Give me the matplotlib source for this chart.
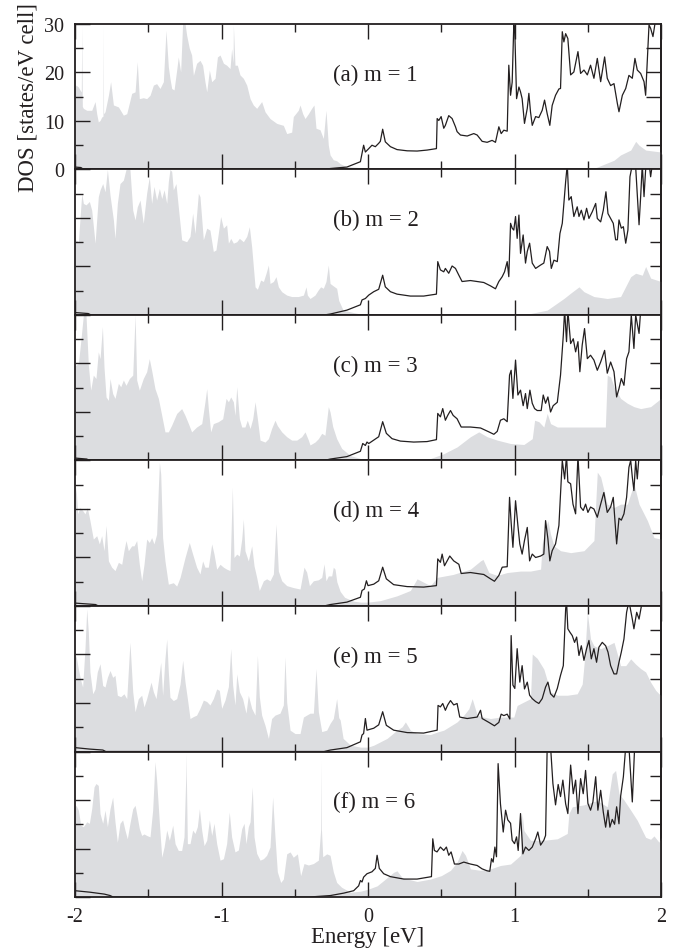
import matplotlib
matplotlib.use("Agg")
import matplotlib.pyplot as plt
from matplotlib.ticker import MultipleLocator

plt.rcParams["font.family"] = ["Liberation Serif", "DejaVu Serif"]
plt.rcParams["font.size"] = 14.5

# (energy [eV], DOS) pairs, one list per curve
A_GRAY = [(-2.0, 17.0), (-1.993, 17.4), (-1.977, 17.0), (-1.966, 16.4), (-1.957, 16.0), (-1.954, 29.8),
          (-1.950, 13.0), (-1.943, 12.6), (-1.920, 12.2), (-1.886, 12.2), (-1.863, 14.0), (-1.852, 11.5),
          (-1.841, 9.8), (-1.829, 10.1), (-1.818, 10.8), (-1.809, 11.0), (-1.807, 29.8), (-1.805, 11.5),
          (-1.795, 11.9), (-1.772, 15.3), (-1.757, 18.1), (-1.738, 13.3), (-1.704, 12.9), (-1.670, 11.2),
          (-1.647, 11.5), (-1.613, 15.7), (-1.590, 16.0), (-1.575, 22.2), (-1.561, 14.6), (-1.534, 14.8),
          (-1.511, 14.6), (-1.488, 15.3), (-1.465, 17.4), (-1.443, 17.7), (-1.420, 16.7), (-1.397, 18.1),
          (-1.379, 28.7), (-1.363, 21.2), (-1.352, 18.8), (-1.340, 16.7), (-1.324, 16.4), (-1.306, 20.5),
          (-1.295, 23.2), (-1.279, 20.1), (-1.265, 30.5), (-1.249, 30.1), (-1.238, 27.7), (-1.220, 25.0),
          (-1.204, 23.6), (-1.192, 19.4), (-1.170, 21.9), (-1.147, 22.5), (-1.129, 21.5), (-1.113, 18.1),
          (-1.101, 16.0), (-1.083, 20.5), (-1.067, 18.1), (-1.044, 18.8), (-1.028, 23.2), (-1.010, 23.6),
          (-0.987, 21.9), (-0.965, 21.5), (-0.942, 20.8), (-0.931, 24.9), (-0.921, 22.0), (-0.919, 29.8),
          (-0.908, 21.5), (-0.892, 21.5), (-0.874, 19.5), (-0.851, 18.8), (-0.828, 17.4), (-0.805, 14.6),
          (-0.783, 13.3), (-0.760, 12.6), (-0.726, 14.0), (-0.703, 11.9), (-0.669, 10.5), (-0.623, 9.5),
          (-0.578, 9.1), (-0.555, 7.4), (-0.521, 7.7), (-0.510, 10.9), (-0.476, 12.2), (-0.464, 13.3),
          (-0.446, 11.5), (-0.430, 10.5), (-0.407, 11.5), (-0.385, 12.6), (-0.369, 13.3), (-0.355, 8.5),
          (-0.328, 8.2), (-0.305, 6.4), (-0.287, 12.2), (-0.271, 5.0), (-0.259, 3.0), (-0.237, 2.0),
          (-0.214, 1.8), (-0.190, 1.2), (-0.150, 0.6), (-0.100, 0.5), (-0.050, 0.4), (-0.020, 0.2),
          (0.0, 0.0), (1.519, 0.0), (1.565, 0.5), (1.679, 1.9), (1.724, 3.0), (1.793, 4.0),
          (1.827, 5.8), (1.850, 5.0), (1.895, 4.0), (2.0, 3.6)]
A_LINE = [(-2.0, 0.5), (-1.96, 0.4), (-1.94, 0.0), (-0.30, 0.0), (-0.257, 0.2), (-0.144, 0.5),
          (-0.052, 1.6), (-0.030, 5.0), (-0.018, 3.6), (0.005, 4.3), (0.027, 5.0), (0.050, 4.7),
          (0.073, 5.4), (0.084, 5.8), (0.100, 8.3), (0.118, 5.7), (0.153, 4.7), (0.198, 4.1),
          (0.267, 3.85), (0.335, 3.8), (0.403, 4.0), (0.467, 4.3), (0.472, 10.5), (0.483, 10.1),
          (0.499, 10.9), (0.517, 8.5), (0.528, 9.1), (0.551, 11.1), (0.574, 10.5), (0.597, 8.8),
          (0.608, 7.8), (0.631, 7.1), (0.677, 6.9), (0.722, 7.4), (0.745, 7.1), (0.779, 5.8),
          (0.813, 5.6), (0.847, 6.0), (0.870, 5.6), (0.893, 8.8), (0.909, 7.4), (0.927, 8.1),
          (0.950, 7.9), (0.961, 21.5), (0.973, 15.3), (0.984, 18.0), (0.995, 29.8), (1.002, 28.4),
          (1.014, 14.6), (1.030, 17.0), (1.041, 16.0), (1.052, 14.6), (1.068, 9.5), (1.087, 12.6),
          (1.098, 15.7), (1.109, 11.9), (1.121, 9.1), (1.144, 10.9), (1.166, 10.7), (1.189, 12.2),
          (1.205, 14.3), (1.223, 11.5), (1.241, 9.1), (1.257, 13.2), (1.280, 15.3), (1.303, 16.6),
          (1.314, 16.7), (1.326, 28.4), (1.337, 26.3), (1.349, 28.0), (1.364, 27.0), (1.383, 19.5),
          (1.405, 20.1), (1.433, 24.3), (1.451, 19.8), (1.474, 20.5), (1.497, 19.5), (1.519, 21.5),
          (1.542, 18.8), (1.565, 22.9), (1.588, 18.1), (1.615, 23.2), (1.633, 18.8), (1.656, 17.3),
          (1.679, 17.7), (1.702, 13.6), (1.713, 11.9), (1.736, 15.3), (1.759, 16.7), (1.781, 19.4),
          (1.804, 18.8), (1.822, 22.9), (1.838, 20.5), (1.861, 19.8), (1.884, 18.1), (1.895, 15.3),
          (1.918, 29.8), (1.929, 29.1), (1.945, 27.4), (1.964, 31.1), (2.0, 32.0)]

B_GRAY = [(-2.0, 15.0), (-1.993, 15.5), (-1.977, 15.1), (-1.954, 25.1), (-1.943, 23.0), (-1.925, 22.7),
          (-1.902, 23.4), (-1.886, 21.6), (-1.863, 14.8), (-1.841, 24.4), (-1.829, 25.8), (-1.811, 27.1),
          (-1.795, 25.4), (-1.779, 30.0), (-1.761, 24.7), (-1.738, 19.6), (-1.727, 15.8), (-1.711, 23.0),
          (-1.693, 27.1), (-1.670, 27.8), (-1.652, 30.0), (-1.625, 30.0), (-1.606, 21.6), (-1.590, 19.6),
          (-1.575, 22.3), (-1.556, 23.7), (-1.534, 18.9), (-1.511, 25.1), (-1.493, 28.5), (-1.477, 23.0),
          (-1.461, 26.5), (-1.443, 23.7), (-1.424, 26.1), (-1.408, 24.0), (-1.392, 25.8), (-1.374, 23.0),
          (-1.363, 27.5), (-1.352, 30.0), (-1.340, 29.6), (-1.329, 25.8), (-1.311, 27.1), (-1.295, 22.3),
          (-1.272, 15.5), (-1.238, 15.1), (-1.215, 16.2), (-1.197, 21.0), (-1.181, 16.8), (-1.158, 25.1),
          (-1.147, 24.4), (-1.124, 15.5), (-1.101, 17.9), (-1.079, 17.5), (-1.056, 13.1), (-1.038, 13.4),
          (-1.022, 16.8), (-1.006, 20.3), (-0.987, 17.9), (-0.965, 18.6), (-0.953, 14.8), (-0.937, 15.8),
          (-0.919, 14.8), (-0.896, 15.1), (-0.878, 15.8), (-0.851, 15.1), (-0.828, 16.2), (-0.810, 18.2),
          (-0.794, 14.0), (-0.771, 5.8), (-0.755, 5.3), (-0.733, 7.2), (-0.714, 6.9), (-0.696, 8.6),
          (-0.680, 10.3), (-0.669, 6.5), (-0.646, 6.9), (-0.628, 7.9), (-0.612, 5.8), (-0.589, 4.8),
          (-0.555, 4.1), (-0.521, 3.8), (-0.476, 3.8), (-0.441, 4.1), (-0.423, 5.8), (-0.414, 4.1),
          (-0.396, 3.4), (-0.362, 4.1), (-0.339, 5.2), (-0.323, 5.8), (-0.305, 5.5), (-0.287, 6.9),
          (-0.271, 10.3), (-0.259, 6.5), (-0.237, 6.0), (-0.214, 5.5), (-0.200, 3.0), (-0.170, 1.0),
          (-0.100, 0.5), (-0.050, 0.2), (0.0, 0.0), (1.050, 0.0), (1.109, 0.3), (1.223, 1.0),
          (1.337, 3.4), (1.383, 4.5), (1.440, 5.8), (1.474, 4.8), (1.542, 3.8), (1.633, 3.4),
          (1.724, 3.8), (1.793, 7.9), (1.827, 8.6), (1.872, 8.2), (1.895, 10.0), (1.929, 7.6), (2.0, 6.9)]
B_LINE = [(-2.0, 0.5), (-1.91, 0.3), (-1.89, 0.0), (-0.30, 0.0), (-0.257, 0.2), (-0.144, 1.0),
          (-0.052, 2.1), (-0.041, 3.1), (-0.018, 3.4), (0.005, 4.1), (0.039, 4.8), (0.073, 5.3),
          (0.100, 8.2), (0.118, 5.8), (0.153, 4.8), (0.198, 4.3), (0.289, 3.9), (0.380, 3.9),
          (0.467, 4.3), (0.476, 11.0), (0.494, 9.3), (0.517, 8.9), (0.528, 9.6), (0.551, 8.6),
          (0.574, 10.1), (0.597, 9.6), (0.620, 8.2), (0.642, 6.9), (0.699, 7.1), (0.745, 6.9),
          (0.790, 6.7), (0.836, 6.0), (0.870, 5.4), (0.893, 6.9), (0.916, 7.9), (0.932, 8.9),
          (0.950, 11.0), (0.961, 7.9), (0.973, 18.9), (0.984, 17.9), (0.995, 17.5), (1.007, 20.3),
          (1.018, 15.8), (1.030, 20.6), (1.041, 12.7), (1.059, 16.5), (1.075, 10.7), (1.087, 13.1),
          (1.103, 14.8), (1.121, 10.7), (1.144, 9.6), (1.178, 10.3), (1.200, 10.7), (1.223, 14.1),
          (1.239, 13.1), (1.251, 9.6), (1.269, 11.3), (1.292, 11.0), (1.310, 16.8), (1.326, 18.9),
          (1.349, 27.5), (1.360, 31.0), (1.371, 23.7), (1.387, 24.4), (1.405, 20.3), (1.428, 22.3),
          (1.440, 20.3), (1.456, 21.6), (1.474, 19.6), (1.492, 22.0), (1.508, 19.9), (1.531, 21.3),
          (1.554, 23.0), (1.565, 19.9), (1.588, 19.2), (1.606, 21.6), (1.624, 25.4), (1.638, 20.9),
          (1.656, 19.9), (1.674, 18.9), (1.690, 15.5), (1.702, 15.5), (1.713, 19.6), (1.729, 17.9),
          (1.743, 18.2), (1.759, 14.8), (1.774, 17.5), (1.788, 28.5), (1.804, 31.0), (1.827, 30.5),
          (1.850, 18.6), (1.861, 24.4), (1.872, 31.0), (1.884, 24.4), (1.895, 30.0), (1.918, 31.5),
          (1.929, 28.5), (1.945, 32.0), (2.0, 33.0)]

C_GRAY = [(-2.0, 19.5), (-1.993, 19.7), (-1.977, 20.0), (-1.961, 24.5), (-1.943, 30.0), (-1.925, 30.0),
          (-1.909, 19.7), (-1.893, 14.5), (-1.875, 17.6), (-1.857, 16.9), (-1.841, 22.4), (-1.829, 21.0),
          (-1.813, 27.6), (-1.802, 19.2), (-1.788, 13.1), (-1.772, 12.4), (-1.761, 16.9), (-1.743, 13.8),
          (-1.727, 12.8), (-1.704, 15.9), (-1.688, 15.2), (-1.670, 16.6), (-1.652, 15.5), (-1.629, 16.9),
          (-1.606, 17.6), (-1.590, 30.0), (-1.579, 16.6), (-1.561, 14.5), (-1.534, 16.9), (-1.511, 18.3),
          (-1.493, 21.0), (-1.477, 18.6), (-1.454, 14.8), (-1.431, 12.8), (-1.408, 9.3), (-1.386, 5.9),
          (-1.363, 5.9), (-1.340, 7.3), (-1.306, 9.7), (-1.272, 10.7), (-1.249, 9.3), (-1.226, 7.6),
          (-1.204, 5.9), (-1.170, 6.9), (-1.135, 7.6), (-1.113, 12.1), (-1.101, 14.8), (-1.090, 10.7),
          (-1.074, 5.9), (-1.056, 7.6), (-1.022, 8.0), (-0.992, 8.6), (-0.969, 12.8), (-0.953, 12.1),
          (-0.937, 13.1), (-0.919, 12.1), (-0.908, 9.3), (-0.896, 15.2), (-0.878, 8.6), (-0.862, 6.9),
          (-0.840, 6.9), (-0.824, 8.3), (-0.805, 6.6), (-0.787, 8.6), (-0.771, 12.1), (-0.755, 8.6),
          (-0.737, 4.2), (-0.703, 3.8), (-0.680, 4.5), (-0.658, 6.6), (-0.635, 8.3), (-0.619, 7.2),
          (-0.589, 5.9), (-0.555, 4.9), (-0.521, 4.2), (-0.487, 4.2), (-0.453, 4.9), (-0.430, 5.9),
          (-0.407, 4.2), (-0.396, 3.2), (-0.362, 3.8), (-0.339, 4.5), (-0.316, 5.6), (-0.294, 5.2),
          (-0.271, 11.1), (-0.259, 10.0), (-0.241, 7.0), (-0.214, 4.5), (-0.180, 2.5), (-0.120, 1.0),
          (-0.050, 0.4), (0.0, 0.1), (0.400, 0.2), (0.426, 0.4), (0.517, 1.4), (0.608, 2.8),
          (0.699, 4.9), (0.756, 5.9), (0.813, 4.9), (0.882, 4.2), (0.973, 3.5), (1.064, 3.3),
          (1.121, 4.5), (1.137, 8.3), (1.166, 8.0), (1.200, 6.9), (1.223, 9.7), (1.246, 7.6),
          (1.292, 6.9), (1.383, 6.9), (1.519, 6.9), (1.620, 6.9), (1.633, 17.6), (1.656, 17.2),
          (1.679, 15.2), (1.724, 12.8), (1.770, 11.8), (1.815, 11.1), (1.861, 10.7), (1.929, 11.1),
          (2.0, 12.8)]
C_LINE = [(-2.0, 0.5), (-1.92, 0.3), (-1.90, 0.0), (-0.30, 0.0), (-0.257, 0.3), (-0.144, 0.8),
          (-0.052, 1.9), (-0.036, 3.5), (-0.018, 3.1), (-0.007, 3.8), (0.005, 3.5), (0.039, 4.2),
          (0.073, 4.9), (0.100, 8.0), (0.125, 5.6), (0.164, 4.5), (0.221, 4.0), (0.312, 3.8),
          (0.403, 3.9), (0.467, 4.3), (0.476, 9.7), (0.494, 9.0), (0.510, 10.7), (0.528, 8.3),
          (0.544, 9.3), (0.563, 10.3), (0.581, 9.3), (0.608, 8.6), (0.636, 6.9), (0.699, 6.9),
          (0.768, 6.7), (0.825, 5.9), (0.859, 5.4), (0.882, 6.0), (0.904, 8.3), (0.927, 8.6),
          (0.950, 8.0), (0.966, 17.6), (0.977, 18.6), (0.989, 12.8), (1.007, 20.7), (1.023, 13.5),
          (1.041, 14.5), (1.059, 11.3), (1.075, 13.8), (1.087, 10.7), (1.105, 14.5), (1.121, 11.8),
          (1.137, 10.7), (1.155, 10.3), (1.182, 10.3), (1.196, 13.5), (1.212, 11.8), (1.228, 13.1),
          (1.246, 10.0), (1.264, 11.3), (1.292, 12.0), (1.314, 17.6), (1.333, 25.8), (1.342, 31.0),
          (1.355, 24.5), (1.364, 31.0), (1.383, 24.1), (1.401, 25.1), (1.417, 22.4), (1.433, 24.5),
          (1.446, 18.3), (1.462, 23.8), (1.478, 27.2), (1.497, 21.0), (1.519, 21.7), (1.542, 20.7),
          (1.565, 18.6), (1.588, 20.3), (1.615, 22.7), (1.633, 18.0), (1.656, 20.3), (1.679, 18.3),
          (1.697, 13.1), (1.713, 14.8), (1.729, 16.9), (1.747, 15.5), (1.765, 21.0), (1.781, 22.4),
          (1.797, 30.0), (1.815, 23.1), (1.827, 30.0), (1.850, 26.2), (1.861, 31.0), (2.0, 33.0)]

D_GRAY = [(-2.0, 22.0), (-1.993, 24.5), (-1.982, 19.0), (-1.966, 20.3), (-1.948, 19.7), (-1.932, 19.0),
          (-1.916, 20.3), (-1.898, 17.6), (-1.875, 13.8), (-1.852, 14.5), (-1.834, 12.8), (-1.818, 14.5),
          (-1.802, 11.4), (-1.788, 16.6), (-1.772, 9.3), (-1.750, 8.0), (-1.727, 7.3), (-1.704, 9.0),
          (-1.681, 8.6), (-1.666, 11.4), (-1.652, 13.5), (-1.636, 11.4), (-1.613, 12.4), (-1.597, 12.4),
          (-1.579, 13.5), (-1.561, 8.6), (-1.545, 5.2), (-1.529, 8.6), (-1.511, 13.8), (-1.493, 13.1),
          (-1.477, 14.1), (-1.461, 12.8), (-1.443, 14.8), (-1.431, 24.5), (-1.424, 29.6), (-1.415, 27.2),
          (-1.402, 14.1), (-1.386, 9.3), (-1.363, 4.5), (-1.329, 4.8), (-1.306, 4.1), (-1.283, 5.9),
          (-1.249, 10.0), (-1.220, 13.1), (-1.197, 10.7), (-1.170, 8.0), (-1.147, 6.6), (-1.129, 9.3),
          (-1.113, 8.0), (-1.090, 8.0), (-1.067, 12.8), (-1.051, 10.7), (-1.033, 7.6), (-1.010, 8.6),
          (-0.987, 8.0), (-0.965, 7.6), (-0.942, 7.3), (-0.926, 24.5), (-0.915, 10.0), (-0.896, 10.7),
          (-0.878, 10.3), (-0.862, 13.8), (-0.851, 17.9), (-0.840, 11.4), (-0.817, 9.3), (-0.794, 12.4),
          (-0.778, 8.3), (-0.760, 5.9), (-0.742, 3.2), (-0.714, 5.2), (-0.692, 5.6), (-0.669, 5.2),
          (-0.646, 6.6), (-0.628, 16.9), (-0.612, 7.2), (-0.589, 5.2), (-0.555, 4.2), (-0.510, 3.8),
          (-0.464, 3.5), (-0.437, 8.0), (-0.419, 7.0), (-0.400, 4.2), (-0.373, 5.2), (-0.339, 5.4),
          (-0.316, 5.9), (-0.300, 8.7), (-0.287, 5.2), (-0.271, 6.2), (-0.248, 6.2), (-0.237, 8.0),
          (-0.225, 7.6), (-0.213, 5.0), (-0.190, 3.0), (-0.160, 1.8), (-0.100, 1.0), (-0.050, 0.8),
          (0.0, 0.8), (0.084, 1.1), (0.198, 2.1), (0.289, 3.2), (0.335, 5.6), (0.380, 4.9),
          (0.426, 4.2), (0.472, 5.9), (0.580, 6.5), (0.699, 7.6), (0.768, 9.3), (0.785, 9.6),
          (0.825, 6.9), (0.882, 6.3), (0.950, 6.9), (1.041, 7.2), (1.109, 7.2), (1.178, 7.6),
          (1.189, 12.8), (1.212, 16.2), (1.228, 17.6), (1.246, 14.8), (1.269, 12.4), (1.314, 11.4),
          (1.383, 11.0), (1.474, 11.4), (1.542, 13.5), (1.554, 21.0), (1.565, 27.6), (1.588, 26.6),
          (1.633, 21.0), (1.679, 20.3), (1.724, 21.0), (1.770, 21.0), (1.793, 23.1), (1.815, 25.2),
          (1.850, 21.0), (1.872, 19.7), (1.907, 17.6), (1.952, 14.1), (2.0, 13.8)]
D_LINE = [(-2.0, 0.6), (-1.86, 0.3), (-1.84, 0.0), (-0.30, 0.0), (-0.257, 0.3), (-0.144, 0.8),
          (-0.052, 1.8), (-0.041, 3.2), (-0.025, 3.5), (-0.011, 5.2), (0.0, 4.2), (0.039, 4.5),
          (0.073, 5.2), (0.100, 8.0), (0.125, 5.6), (0.175, 4.4), (0.267, 4.0), (0.380, 3.9),
          (0.467, 4.2), (0.476, 9.7), (0.494, 9.0), (0.506, 10.7), (0.522, 8.3), (0.540, 9.3),
          (0.558, 10.3), (0.585, 9.3), (0.620, 8.6), (0.636, 6.7), (0.699, 6.9), (0.790, 6.5),
          (0.836, 5.6), (0.863, 5.1), (0.893, 6.3), (0.916, 8.0), (0.950, 8.1), (0.966, 22.4),
          (0.977, 17.2), (0.989, 12.1), (1.007, 21.7), (1.023, 16.6), (1.036, 12.8), (1.052, 10.7),
          (1.068, 13.5), (1.087, 16.2), (1.103, 9.3), (1.121, 10.7), (1.144, 10.0), (1.178, 10.3),
          (1.200, 10.7), (1.212, 17.6), (1.228, 13.8), (1.241, 9.3), (1.257, 11.4), (1.280, 12.8),
          (1.303, 16.6), (1.314, 23.1), (1.326, 30.0), (1.342, 26.2), (1.355, 31.0), (1.364, 25.6),
          (1.383, 25.2), (1.399, 21.0), (1.417, 19.0), (1.433, 31.0), (1.451, 20.4), (1.469, 19.7),
          (1.485, 21.0), (1.501, 19.3), (1.519, 20.4), (1.542, 20.0), (1.565, 18.3), (1.588, 21.0),
          (1.610, 23.4), (1.633, 19.3), (1.656, 20.4), (1.674, 22.4), (1.697, 12.8), (1.713, 18.1),
          (1.729, 17.7), (1.747, 19.0), (1.765, 22.4), (1.781, 28.6), (1.793, 30.0), (1.804, 26.6),
          (1.815, 23.8), (1.827, 30.0), (1.838, 26.2), (1.850, 31.0), (2.0, 33.0)]

E_GRAY = [(-2.0, 19.0), (-1.993, 19.8), (-1.977, 17.0), (-1.961, 14.7), (-1.948, 13.3), (-1.932, 21.2),
          (-1.920, 29.4), (-1.909, 24.6), (-1.898, 16.4), (-1.879, 11.9), (-1.863, 12.9), (-1.848, 16.4),
          (-1.829, 18.1), (-1.811, 13.6), (-1.795, 13.3), (-1.779, 15.3), (-1.761, 16.7), (-1.743, 15.3),
          (-1.727, 15.7), (-1.711, 11.6), (-1.688, 11.3), (-1.666, 11.9), (-1.647, 10.9), (-1.625, 22.5),
          (-1.606, 12.3), (-1.590, 8.2), (-1.568, 10.9), (-1.545, 11.6), (-1.529, 9.2), (-1.511, 10.9),
          (-1.481, 14.3), (-1.465, 12.3), (-1.447, 10.9), (-1.431, 14.6), (-1.415, 18.4), (-1.402, 11.6),
          (-1.386, 19.2), (-1.374, 23.2), (-1.363, 16.4), (-1.352, 11.2), (-1.329, 10.5), (-1.306, 10.9),
          (-1.283, 13.9), (-1.265, 18.8), (-1.249, 14.3), (-1.233, 10.9), (-1.215, 6.8), (-1.192, 7.2),
          (-1.170, 7.5), (-1.147, 8.9), (-1.124, 10.6), (-1.101, 10.3), (-1.079, 9.6), (-1.056, 10.9),
          (-1.033, 12.9), (-1.015, 12.6), (-0.999, 8.9), (-0.976, 10.6), (-0.953, 13.4), (-0.937, 21.2),
          (-0.924, 13.7), (-0.908, 9.6), (-0.896, 16.0), (-0.878, 12.3), (-0.856, 10.9), (-0.833, 7.9),
          (-0.817, 11.6), (-0.794, 8.9), (-0.771, 7.5), (-0.755, 19.8), (-0.742, 11.3), (-0.726, 7.5),
          (-0.703, 5.4), (-0.680, 2.7), (-0.658, 6.8), (-0.635, 7.5), (-0.601, 7.9), (-0.578, 9.6),
          (-0.567, 19.5), (-0.555, 10.1), (-0.532, 4.4), (-0.498, 3.7), (-0.464, 3.7), (-0.441, 7.1),
          (-0.419, 7.5), (-0.396, 7.9), (-0.373, 7.9), (-0.355, 17.1), (-0.339, 8.2), (-0.316, 4.1),
          (-0.282, 4.4), (-0.259, 5.8), (-0.237, 6.8), (-0.214, 10.9), (-0.200, 7.0), (-0.190, 6.5),
          (-0.170, 2.7), (-0.120, 1.3), (-0.050, 0.9), (0.0, 0.9), (0.039, 1.3), (0.130, 2.7),
          (0.198, 4.4), (0.233, 5.1), (0.255, 6.1), (0.289, 4.4), (0.335, 3.7), (0.426, 3.5),
          (0.472, 4.0), (0.517, 4.4), (0.608, 6.1), (0.654, 7.5), (0.688, 8.8), (0.711, 10.9),
          (0.745, 7.5), (0.790, 7.1), (0.836, 6.8), (0.904, 7.1), (0.973, 7.1), (0.995, 7.1),
          (1.018, 9.5), (1.109, 10.9), (1.121, 20.1), (1.155, 19.2), (1.200, 17.0), (1.246, 12.3),
          (1.292, 11.6), (1.360, 11.6), (1.428, 11.9), (1.462, 13.9), (1.478, 19.1), (1.497, 28.7),
          (1.519, 23.2), (1.542, 21.8), (1.588, 21.2), (1.633, 21.8), (1.679, 22.5), (1.724, 17.7),
          (1.759, 17.7), (1.793, 19.1), (1.827, 18.0), (1.861, 17.1), (1.895, 16.4), (1.929, 14.3),
          (1.964, 12.6), (1.986, 11.9), (2.0, 11.6)]
E_LINE = [(-2.0, 0.8), (-1.90, 0.5), (-1.81, 0.3), (-1.79, 0.0), (-0.30, 0.0), (-0.257, 0.3),
          (-0.144, 0.8), (-0.052, 2.0), (-0.041, 3.4), (-0.030, 3.7), (-0.018, 6.8), (-0.007, 4.4),
          (0.039, 4.8), (0.073, 5.5), (0.100, 8.2), (0.125, 5.4), (0.175, 4.4), (0.267, 3.9),
          (0.380, 3.8), (0.472, 4.4), (0.478, 9.5), (0.494, 9.2), (0.510, 9.9), (0.528, 8.5),
          (0.544, 9.6), (0.563, 10.5), (0.585, 9.6), (0.608, 9.9), (0.626, 7.1), (0.677, 6.8),
          (0.745, 7.1), (0.768, 8.5), (0.779, 6.8), (0.825, 6.0), (0.863, 5.3), (0.893, 6.0),
          (0.909, 7.7), (0.927, 7.4), (0.950, 7.7), (0.968, 6.7), (0.977, 23.9), (0.989, 13.7),
          (1.002, 13.0), (1.018, 21.2), (1.036, 14.3), (1.052, 17.7), (1.068, 12.9), (1.087, 14.3),
          (1.103, 11.6), (1.121, 10.9), (1.144, 10.3), (1.166, 9.9), (1.189, 10.9), (1.212, 13.3),
          (1.228, 14.3), (1.246, 11.9), (1.269, 11.2), (1.292, 13.0), (1.314, 15.7), (1.333, 17.7),
          (1.349, 29.4), (1.355, 31.0), (1.364, 25.3), (1.378, 24.6), (1.394, 23.9), (1.410, 22.5),
          (1.424, 23.6), (1.440, 19.8), (1.456, 21.8), (1.474, 18.8), (1.492, 21.2), (1.508, 22.9),
          (1.524, 19.1), (1.542, 21.2), (1.560, 18.4), (1.576, 21.5), (1.599, 22.5), (1.622, 21.8),
          (1.638, 20.5), (1.656, 17.7), (1.679, 16.0), (1.697, 16.0), (1.713, 18.4), (1.729, 20.5),
          (1.747, 23.2), (1.765, 28.7), (1.781, 31.0), (1.804, 27.3), (1.815, 25.3), (1.834, 28.7),
          (1.850, 27.3), (1.872, 31.0), (2.0, 33.0)]

F_GRAY = [(-2.0, 18.5), (-1.993, 18.9), (-1.977, 17.9), (-1.961, 14.8), (-1.943, 14.5), (-1.920, 15.5),
          (-1.902, 15.2), (-1.886, 18.2), (-1.870, 22.7), (-1.857, 23.4), (-1.841, 23.0), (-1.829, 17.2),
          (-1.811, 15.2), (-1.795, 17.9), (-1.779, 14.5), (-1.761, 18.2), (-1.743, 20.6), (-1.727, 15.5),
          (-1.711, 11.3), (-1.693, 15.2), (-1.675, 15.9), (-1.659, 13.8), (-1.643, 12.0), (-1.625, 15.2),
          (-1.606, 18.2), (-1.590, 18.9), (-1.575, 16.5), (-1.561, 14.1), (-1.545, 12.7), (-1.529, 13.0),
          (-1.511, 12.7), (-1.488, 12.4), (-1.470, 17.9), (-1.454, 27.9), (-1.443, 24.1), (-1.424, 15.2),
          (-1.408, 8.2), (-1.392, 10.3), (-1.374, 13.8), (-1.356, 11.7), (-1.333, 14.8), (-1.317, 11.0),
          (-1.295, 9.6), (-1.272, 9.6), (-1.256, 12.4), (-1.244, 25.0), (-1.242, 29.7), (-1.240, 25.0),
          (-1.233, 11.0), (-1.215, 11.0), (-1.197, 13.8), (-1.181, 13.1), (-1.165, 14.5), (-1.151, 18.2),
          (-1.135, 13.7), (-1.119, 10.6), (-1.101, 11.7), (-1.083, 15.9), (-1.067, 12.7), (-1.051, 15.2),
          (-1.033, 11.0), (-1.010, 7.6), (-0.987, 7.9), (-0.965, 11.0), (-0.947, 17.5), (-0.931, 12.4),
          (-0.908, 9.3), (-0.885, 9.7), (-0.862, 14.1), (-0.846, 15.2), (-0.833, 11.0), (-0.817, 14.5),
          (-0.805, 15.5), (-0.790, 22.7), (-0.778, 12.4), (-0.760, 9.0), (-0.737, 7.6), (-0.714, 7.9),
          (-0.692, 8.6), (-0.669, 10.3), (-0.651, 20.6), (-0.635, 12.4), (-0.619, 5.2), (-0.596, 3.0),
          (-0.578, 3.7), (-0.555, 8.9), (-0.532, 9.3), (-0.510, 8.2), (-0.482, 8.9), (-0.460, 4.4),
          (-0.437, 6.9), (-0.407, 6.6), (-0.373, 6.9), (-0.339, 7.6), (-0.323, 14.0), (-0.321, 28.2),
          (-0.318, 14.0), (-0.309, 8.3), (-0.282, 8.9), (-0.259, 8.6), (-0.237, 5.2), (-0.214, 3.0),
          (-0.180, 2.0), (-0.120, 1.0), (-0.050, 1.2), (0.0, 1.6), (0.062, 2.3), (0.107, 3.4),
          (0.175, 5.1), (0.198, 5.4), (0.233, 4.0), (0.335, 3.2), (0.426, 3.7), (0.500, 4.4),
          (0.563, 5.5), (0.608, 7.2), (0.642, 9.6), (0.665, 8.6), (0.699, 5.8), (0.768, 5.5),
          (0.836, 5.8), (0.904, 6.5), (0.973, 6.8), (1.041, 8.6), (1.052, 17.2), (1.064, 13.7),
          (1.109, 11.7), (1.155, 11.7), (1.200, 11.7), (1.292, 12.0), (1.360, 13.1), (1.371, 17.2),
          (1.394, 18.6), (1.474, 19.0), (1.565, 19.9), (1.633, 18.6), (1.667, 25.4), (1.690, 26.1),
          (1.713, 21.3), (1.747, 20.0), (1.793, 17.9), (1.838, 15.8), (1.872, 13.7), (1.895, 12.3),
          (1.929, 11.9), (1.952, 12.6), (1.986, 11.3), (2.0, 12.3)]
F_LINE = [(-2.0, 1.3), (-1.90, 1.0), (-1.80, 0.6), (-1.76, 0.3), (-1.74, 0.0), (-0.40, 0.0),
          (-0.257, 0.3), (-0.166, 0.8), (-0.098, 1.3), (-0.064, 2.3), (-0.052, 3.4), (-0.041, 3.1),
          (-0.030, 4.1), (-0.007, 4.8), (0.027, 5.2), (0.050, 5.9), (0.062, 8.6), (0.077, 5.9),
          (0.107, 4.8), (0.153, 4.2), (0.244, 3.7), (0.335, 3.7), (0.433, 4.2), (0.442, 12.0),
          (0.453, 9.6), (0.471, 9.3), (0.494, 10.3), (0.517, 9.6), (0.535, 10.3), (0.551, 8.6),
          (0.567, 9.3), (0.590, 6.8), (0.620, 6.8), (0.654, 7.2), (0.699, 6.8), (0.745, 6.5),
          (0.779, 5.8), (0.813, 5.4), (0.831, 5.3), (0.843, 7.9), (0.854, 7.2), (0.866, 10.3),
          (0.877, 8.3), (0.888, 27.5), (0.904, 19.2), (0.923, 13.4), (0.939, 17.9), (0.954, 15.9),
          (0.973, 15.2), (0.984, 11.7), (1.000, 11.0), (1.014, 12.4), (1.025, 9.6), (1.041, 17.2),
          (1.057, 8.9), (1.075, 10.3), (1.098, 9.6), (1.121, 10.3), (1.144, 12.0), (1.159, 13.4),
          (1.178, 10.7), (1.200, 11.7), (1.212, 12.7), (1.223, 31.0), (1.246, 31.0), (1.262, 23.4),
          (1.280, 19.0), (1.298, 23.2), (1.314, 20.7), (1.330, 24.1), (1.349, 19.2), (1.364, 17.2),
          (1.383, 27.2), (1.401, 21.3), (1.417, 24.1), (1.433, 17.2), (1.451, 24.4), (1.469, 21.3),
          (1.485, 26.1), (1.501, 19.3), (1.519, 17.9), (1.535, 19.6), (1.554, 24.8), (1.569, 17.9),
          (1.588, 22.0), (1.606, 17.5), (1.622, 14.4), (1.638, 17.9), (1.651, 14.4), (1.667, 16.0),
          (1.683, 15.0), (1.697, 18.6), (1.713, 15.1), (1.724, 20.7), (1.743, 24.8), (1.759, 31.0),
          (1.781, 31.0), (1.804, 19.6), (1.820, 31.0), (2.0, 33.0)]

PANEL_LABELS = ["(a) m = 1", "(b) m = 2", "(c) m = 3", "(d) m = 4", "(e) m = 5", "(f) m = 6"]
GRAY_CURVES = [A_GRAY, B_GRAY, C_GRAY, D_GRAY, E_GRAY, F_GRAY]
LINE_CURVES = [A_LINE, B_LINE, C_LINE, D_LINE, E_LINE, F_LINE]

FILL_COLOR = "#dcdde0"
INK = "#231f20"
LABEL_SIZE = 16.5

fig, axes = plt.subplots(6, 1, sharex=True, figsize=(6.77, 9.53), dpi=100)
fig.subplots_adjust(left=0.1108, right=0.9764, top=0.9738, bottom=0.0577, hspace=0)

for i, ax in enumerate(axes):
    ge, gd = zip(*GRAY_CURVES[i])
    le, ld = zip(*LINE_CURVES[i])
    ax.fill_between(ge, 0, gd, color=FILL_COLOR, lw=0, zorder=1)
    ax.plot(le, ld, color=INK, lw=0.9, zorder=2)

    ax.set_xlim(-2, 2)
    ax.set_ylim(0, 30)
    ax.xaxis.set_major_locator(MultipleLocator(1))
    ax.xaxis.set_minor_locator(MultipleLocator(0.5))
    ax.yaxis.set_major_locator(MultipleLocator(10))
    ax.yaxis.set_minor_locator(MultipleLocator(5))
    ax.tick_params(which="both", direction="in", top=True, bottom=True, left=True, right=False,
                   color=INK, width=1.0, labelcolor=INK)
    ax.tick_params(which="major", length=11)
    ax.tick_params(which="minor", length=5.5)
    ax.tick_params(axis="y", pad=8)
    for sp in ax.spines.values():
        sp.set_linewidth(1.3)
        sp.set_color(INK)
        sp.set_zorder(5)

    # opposite-side ticks, all the same length
    sec = ax.secondary_yaxis("right")
    sec.set_yticks([5, 10, 15, 20, 25])
    sec.tick_params(direction="in", length=8 if i else 11, width=1.0, color=INK, labelright=False)
    sec.spines["right"].set_linewidth(1.3)
    sec.spines["right"].set_color(INK)

    if i == 0:
        ax.set_yticks([0, 10, 20, 30])
        ax.set_ylabel("DOS [states/eV cell]", color=INK, fontsize=LABEL_SIZE, labelpad=4)
    else:
        ax.tick_params(labelleft=False)

    ax.text(0.44, 0.655, PANEL_LABELS[i], transform=ax.transAxes, ha="left", va="center",
            color=INK, fontsize=LABEL_SIZE)

axes[-1].set_xticks([-2, -1, 0, 1, 2])
axes[-1].set_xticklabels(["-2", "-1", "0", "1", "2"])
axes[-1].tick_params(axis="x", pad=7)
axes[-1].set_xlabel("Energy [eV]", color=INK, fontsize=LABEL_SIZE, labelpad=0)

fig.savefig("out.png", dpi=100)
